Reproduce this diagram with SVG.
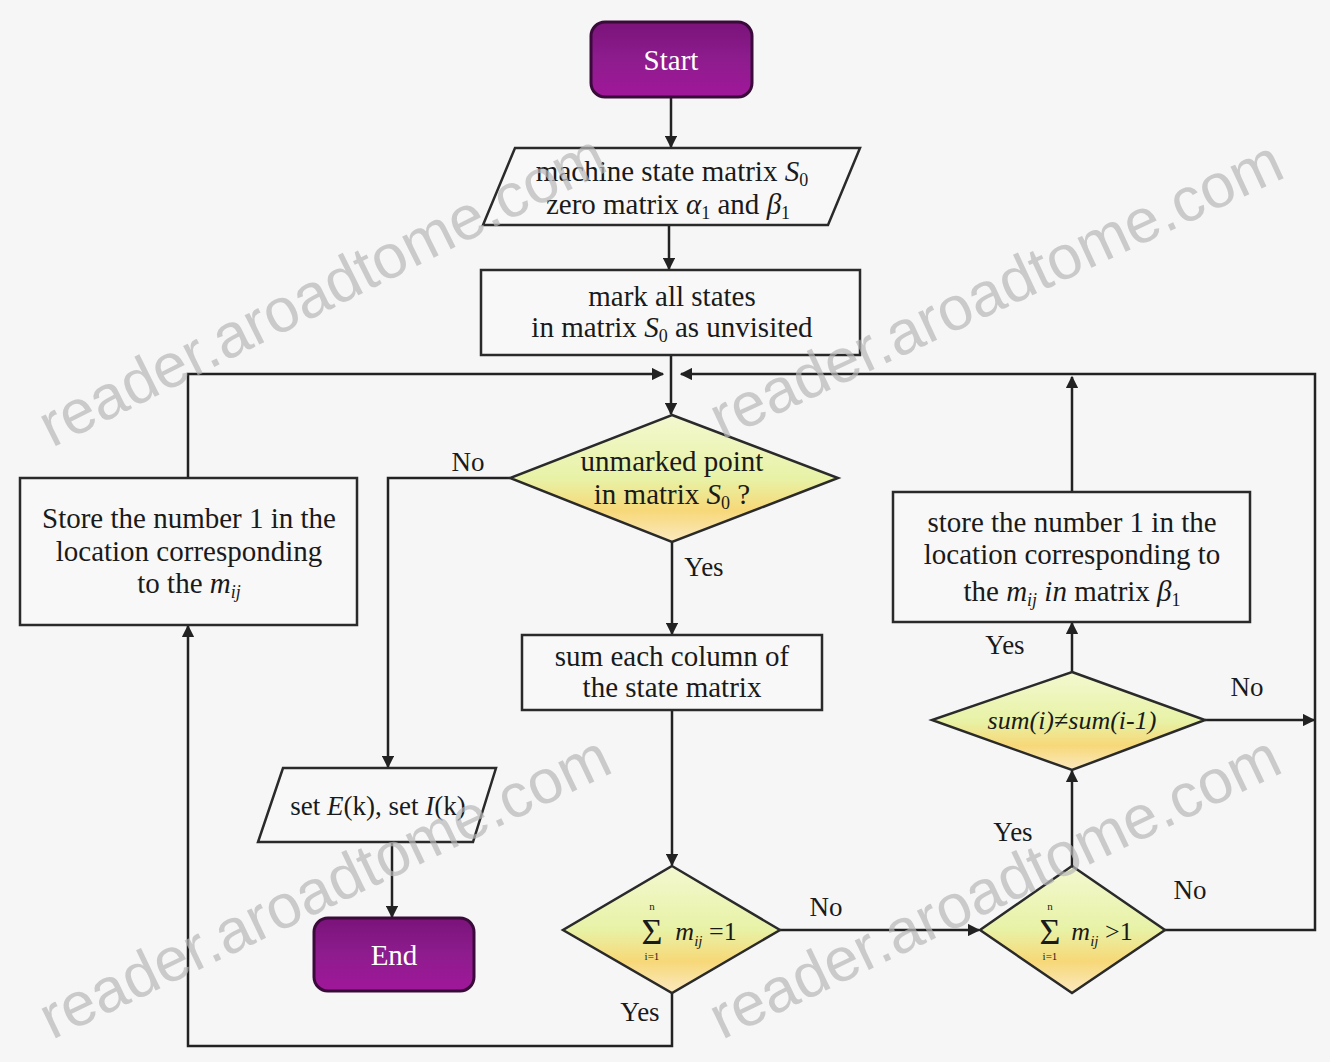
<svg xmlns="http://www.w3.org/2000/svg" width="1330" height="1062" viewBox="0 0 1330 1062">
<defs>
<style>
.bg{fill:#f6f6f6}
.box{fill:#f8f8f8;stroke:#2a2a2a;stroke-width:2.5}
.dia{fill:url(#dg);stroke:#2a2a2a;stroke-width:2.5}
.term{fill:url(#pg);stroke:#3a0a3a;stroke-width:3}
.ln{fill:none;stroke:#222;stroke-width:2.5}
.t{font-family:"Liberation Serif","DejaVu Serif",serif;font-size:29px;fill:#1a1a1a;text-anchor:middle}
.tw{font-family:"Liberation Serif","DejaVu Serif",serif;font-size:29px;fill:#ffffff;text-anchor:middle}
.lbl{font-family:"Liberation Serif","DejaVu Serif",serif;font-size:27px;fill:#1a1a1a;text-anchor:middle}
.sig{font-family:"Liberation Serif","DejaVu Serif",serif;font-size:36px;fill:#1a1a1a;text-anchor:middle}
.lim{font-family:"Liberation Serif","DejaVu Serif",serif;font-size:11px;fill:#1a1a1a;text-anchor:middle}
.sub{font-size:18px}
.wm{font-family:"Liberation Sans",sans-serif;font-size:62px;fill:#b8b8b8;fill-opacity:0.7}
</style>
<linearGradient id="dg" x1="0" y1="0" x2="0" y2="1">
<stop offset="0" stop-color="#f4f8d0"/>
<stop offset="0.5" stop-color="#e8f2a6"/>
<stop offset="0.75" stop-color="#f7d878"/>
<stop offset="1" stop-color="#fbe9c0"/>
</linearGradient>
<linearGradient id="pg" x1="0" y1="0" x2="0" y2="1">
<stop offset="0" stop-color="#7a137a"/>
<stop offset="0.5" stop-color="#8e1c8e"/>
<stop offset="1" stop-color="#a0179a"/>
</linearGradient>
<marker id="ar" viewBox="0 0 10 10" refX="9" refY="5" markerWidth="5" markerHeight="5" orient="auto">
<path d="M0,0 L10,5 L0,10 z" fill="#222"/>
</marker>
</defs>
<rect class="bg" x="0" y="0" width="1330" height="1062"/>

<g id="connectors">
<line class="ln" x1="671" y1="97" x2="671" y2="147" marker-end="url(#ar)"/>
<line class="ln" x1="669" y1="225" x2="669" y2="269" marker-end="url(#ar)"/>
<line class="ln" x1="671" y1="355" x2="671" y2="414" marker-end="url(#ar)"/>
<polyline class="ln" points="188,478 188,374 663,374" marker-end="url(#ar)"/>
<polyline class="ln" points="1165,930 1315,930 1315,374 681,374" marker-end="url(#ar)"/>
<line class="ln" x1="1072" y1="492" x2="1072" y2="377" marker-end="url(#ar)"/>
<polyline class="ln" points="510,478 388,478 388,767" marker-end="url(#ar)"/>
<line class="ln" x1="672" y1="542" x2="672" y2="634" marker-end="url(#ar)"/>
<line class="ln" x1="672" y1="710" x2="672" y2="865" marker-end="url(#ar)"/>
<line class="ln" x1="392" y1="842" x2="392" y2="917" marker-end="url(#ar)"/>
<polyline class="ln" points="672,993 672,1046 188,1046 188,626" marker-end="url(#ar)"/>
<line class="ln" x1="780" y1="930" x2="979" y2="930" marker-end="url(#ar)"/>
<line class="ln" x1="1072" y1="866" x2="1072" y2="771" marker-end="url(#ar)"/>
<line class="ln" x1="1072" y1="672" x2="1072" y2="623" marker-end="url(#ar)"/>
<line class="ln" x1="1205" y1="720" x2="1314" y2="720" marker-end="url(#ar)"/>
<text class="lbl" x="468" y="471">No</text>
<text class="lbl" x="704" y="576">Yes</text>
<text class="lbl" x="826" y="916">No</text>
<text class="lbl" x="640" y="1021">Yes</text>
<text class="lbl" x="1013" y="841">Yes</text>
<text class="lbl" x="1190" y="899">No</text>
<text class="lbl" x="1005" y="654">Yes</text>
<text class="lbl" x="1247" y="696">No</text>
</g>

<g id="start">
<rect class="term" x="591" y="22" width="161" height="75" rx="14"/>
<text class="tw" x="671" y="70">Start</text>
</g>

<g id="init">
<polygon class="box" points="515,148 860,148 828,225 483,225"/>
<text class="t" x="672" y="181">machine state matrix <tspan font-style="italic">S</tspan><tspan class="sub" dy="5">0</tspan></text>
<text class="t" x="668" y="214">zero matrix <tspan font-style="italic">α</tspan><tspan class="sub" dy="5">1</tspan><tspan dy="-5"> and </tspan><tspan font-style="italic">β</tspan><tspan class="sub" dy="5">1</tspan></text>
</g>

<g id="mark">
<rect class="box" x="481" y="270" width="379" height="85"/>
<text class="t" x="672" y="306">mark all states</text>
<text class="t" x="672" y="337">in matrix <tspan font-style="italic">S</tspan><tspan class="sub" dy="5">0</tspan><tspan dy="-5"> as unvisited</tspan></text>
</g>

<g id="unmarked">
<polygon class="dia" points="672,415 838,478 672,542 510,478"/>
<text class="t" x="672" y="471">unmarked point</text>
<text class="t" x="672" y="504">in matrix <tspan font-style="italic">S</tspan><tspan class="sub" dy="5">0</tspan><tspan dy="-5"> ?</tspan></text>
</g>

<g id="storeLeft">
<rect class="box" x="20" y="478" width="337" height="147"/>
<text class="t" x="189" y="528">Store the number 1 in the</text>
<text class="t" x="189" y="561">location corresponding</text>
<text class="t" x="189" y="593">to the <tspan font-style="italic">m</tspan><tspan class="sub" dy="5" font-style="italic">ij</tspan></text>
</g>

<g id="sumcol">
<rect class="box" x="522" y="635" width="300" height="75"/>
<text class="t" x="672" y="666">sum each column of</text>
<text class="t" x="672" y="697">the state matrix</text>
</g>

<g id="setEI">
<polygon class="box" points="283,768 496,768 473,842 258,842"/>
<text class="t" x="378" y="815" style="font-size:27px">set <tspan font-style="italic">E</tspan>(k), set <tspan font-style="italic">I</tspan>(k)</text>
</g>

<g id="end">
<rect class="term" x="314" y="918" width="160" height="73" rx="14"/>
<text class="tw" x="394" y="965">End</text>
</g>

<g id="sumEq1">
<polygon class="dia" points="672,866 780,930 672,993 563,930"/>
<text class="lim" x="652" y="910">n</text>
<text class="sig" x="652" y="944">Σ</text>
<text class="lim" x="652" y="960">i=1</text>
<text class="t" x="706" y="940" style="font-size:26px"><tspan font-style="italic">m</tspan><tspan style="font-size:15px" dy="6" font-style="italic">ij</tspan><tspan dy="-6"> =1</tspan></text>
</g>

<g id="sumGt1">
<polygon class="dia" points="1072,866 1165,930 1072,993 980,930"/>
<text class="lim" x="1050" y="910">n</text>
<text class="sig" x="1050" y="944">Σ</text>
<text class="lim" x="1050" y="960">i=1</text>
<text class="t" x="1102" y="940" style="font-size:26px"><tspan font-style="italic">m</tspan><tspan style="font-size:15px" dy="6" font-style="italic">ij</tspan><tspan dy="-6"> &gt;1</tspan></text>
</g>

<g id="sumNeq">
<polygon class="dia" points="1072,672 1205,720 1072,770 932,720"/>
<text class="t" x="1072" y="729" style="font-size:26px" font-style="italic">sum(i)≠sum(i-1)</text>
</g>

<g id="storeRight">
<rect class="box" x="893" y="492" width="357" height="130"/>
<text class="t" x="1072" y="532">store the number 1 in the</text>
<text class="t" x="1072" y="564">location corresponding to</text>
<text class="t" x="1072" y="601">the <tspan font-style="italic">m</tspan><tspan class="sub" dy="5" font-style="italic">ij</tspan><tspan dy="-5" font-style="italic"> in</tspan> matrix <tspan font-style="italic">β</tspan><tspan class="sub" dy="5">1</tspan></text>
</g>

<g id="watermarks">
<text class="wm" transform="translate(52,448) rotate(-26.5)">reader.aroadtome.com</text>
<text class="wm" transform="translate(722,440) rotate(-25)">reader.aroadtome.com</text>
<text class="wm" transform="translate(52,1040) rotate(-25.5)">reader.aroadtome.com</text>
<text class="wm" transform="translate(722,1040) rotate(-25.5)">reader.aroadtome.com</text>
</g>
</svg>
